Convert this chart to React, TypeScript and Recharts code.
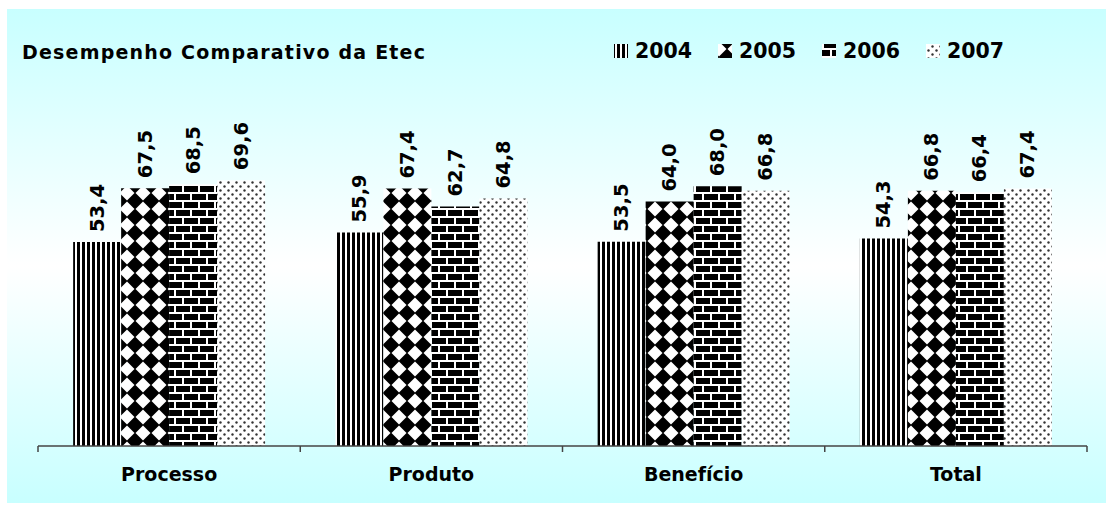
import React from 'react';
import { BarChart, Bar, XAxis, YAxis, LabelList } from 'recharts';

// Chart values
const categories = ['Processo', 'Produto', 'Benefício', 'Total'];
const years = ['2004', '2005', '2006', '2007'];
const values2004 = [53.4, 55.9, 53.5, 54.3];
const values2005 = [67.5, 67.4, 64.0, 66.8];
const values2006 = [68.5, 62.7, 68.0, 66.4];
const values2007 = [69.6, 64.8, 66.8, 67.4];
const seriesValues = [values2004, values2005, values2006, values2007];
const title = 'Desempenho Comparativo da Etec';

const data = categories.map((name, i) => {
  const row: Record<string, string | number> = { name };
  years.forEach((y, k) => {
    row[y] = seriesValues[k][i];
  });
  return row;
});

const FONT = '"DejaVu Sans", Verdana, sans-serif';
const TICK_SIZE = 6;
const TICK_MARGIN = 16;

const fmt = (v: number) => v.toFixed(1).replace('.', ',');

const ValueLabel = (props: any) => {
  const { x, y, width, value } = props;
  const cx = Number(x) + Number(width) / 2;
  const ty = Number(y) - 10;
  return (
    <text
      x={cx}
      y={ty}
      transform={`rotate(-90, ${cx}, ${ty})`}
      textAnchor="start"
      dominantBaseline="central"
      fontFamily={FONT}
      fontWeight="bold"
      fontSize={19.5}
      fill="#000"
    >
      {fmt(Number(value))}
    </text>
  );
};

const CategoryTick = (props: any) => {
  const { x, y, payload, index, visibleTicksCount, width } = props;
  const half =
    payload && typeof payload.offset === 'number' && payload.offset > 0
      ? payload.offset
      : Number(width) / (2 * visibleTicksCount);
  const axisY = y - TICK_SIZE - TICK_MARGIN;
  return (
    <g>
      <line x1={x - half} x2={x - half} y1={axisY} y2={axisY + TICK_SIZE} stroke="#444" strokeWidth={1.5} />
      {index === visibleTicksCount - 1 && (
        <line x1={x + half} x2={x + half} y1={axisY} y2={axisY + TICK_SIZE} stroke="#444" strokeWidth={1.5} />
      )}
      <text
        x={x}
        y={y}
        dy="0.71em"
        textAnchor="middle"
        fontFamily={FONT}
        fontWeight="bold"
        fontSize={19}
        fill="#000"
      >
        {payload.value}
      </text>
    </g>
  );
};

const fills = ['url(#p2004)', 'url(#p2005)', 'url(#p2006)', 'url(#p2007)'];

export default function App() {
  return (
    <div>
      <style>{'html,body{margin:0;padding:0;overflow:hidden;}'}</style>
      <div
        style={{
          position: 'relative',
          marginLeft: 7,
          marginTop: 9,
          width: 1099,
          height: 494,
          background: 'linear-gradient(to bottom, #c8ffff 0%, #ffffff 52%, #c8ffff 100%)',
        }}
      >
        <BarChart
          width={1099}
          height={494}
          data={data}
          margin={{ top: 55, right: 19, left: 31, bottom: 17 }}
          barCategoryGap="13.4%"
          barGap={0}
        >
          <defs>
            <pattern id="p2004" patternUnits="userSpaceOnUse" width={5} height={5}>
              <rect width={5} height={5} fill="#fff" />
              <rect x={0} width={3} height={5} fill="#000" />
            </pattern>
            <pattern id="p2005" patternUnits="userSpaceOnUse" width={16} height={16}>
              <rect width={16} height={16} fill="#000" />
              <polygon points="8,0.5 15.5,8 8,15.5 0.5,8" fill="#fff" />
            </pattern>
            <pattern id="p2006" patternUnits="userSpaceOnUse" width={16} height={16}>
              <rect width={16} height={16} fill="#fff" />
              <rect x={1} y={1} width={14} height={6} fill="#000" />
              <rect x={-7} y={9} width={14} height={6} fill="#000" />
              <rect x={9} y={9} width={14} height={6} fill="#000" />
            </pattern>
            <pattern id="p2007" patternUnits="userSpaceOnUse" width={8} height={8}>
              <rect width={8} height={8} fill="#fff" />
              <circle cx={1.5} cy={1.5} r={1.2} fill="#333" />
              <circle cx={5.5} cy={5.5} r={1.2} fill="#333" />
            </pattern>
          </defs>
          <XAxis
            dataKey="name"
            height={40}
            tickSize={TICK_SIZE}
            tickMargin={TICK_MARGIN}
            tickLine={false}
            axisLine={{ stroke: '#444', strokeWidth: 1.5 }}
            tick={<CategoryTick />}
            interval={0}
          />
          <YAxis hide domain={[0, 100]} />
          {years.map((y, k) => (
            <Bar key={y} dataKey={y} fill={fills[k]} isAnimationActive={false}>
              <LabelList dataKey={y} content={<ValueLabel />} />
            </Bar>
          ))}
        </BarChart>
        <svg
          width={1099}
          height={494}
          style={{ position: 'absolute', left: 0, top: 0, pointerEvents: 'none' }}
        >
          <text
            x={15}
            y={50}
            fontFamily={FONT}
            fontWeight="bold"
            fontSize={19}
            letterSpacing={1.2}
            fill="#000"
          >
            {title}
          </text>
          {years.map((y, k) => (
            <g key={y}>
              <rect x={607 + 104 * k} y={35} width={14} height={14} fill={fills[k]} />
              <text
                x={628 + 104 * k}
                y={49}
                fontFamily={FONT}
                fontWeight="bold"
                fontSize={20.5}
                fill="#000"
              >
                {y}
              </text>
            </g>
          ))}
        </svg>
      </div>
    </div>
  );
}
